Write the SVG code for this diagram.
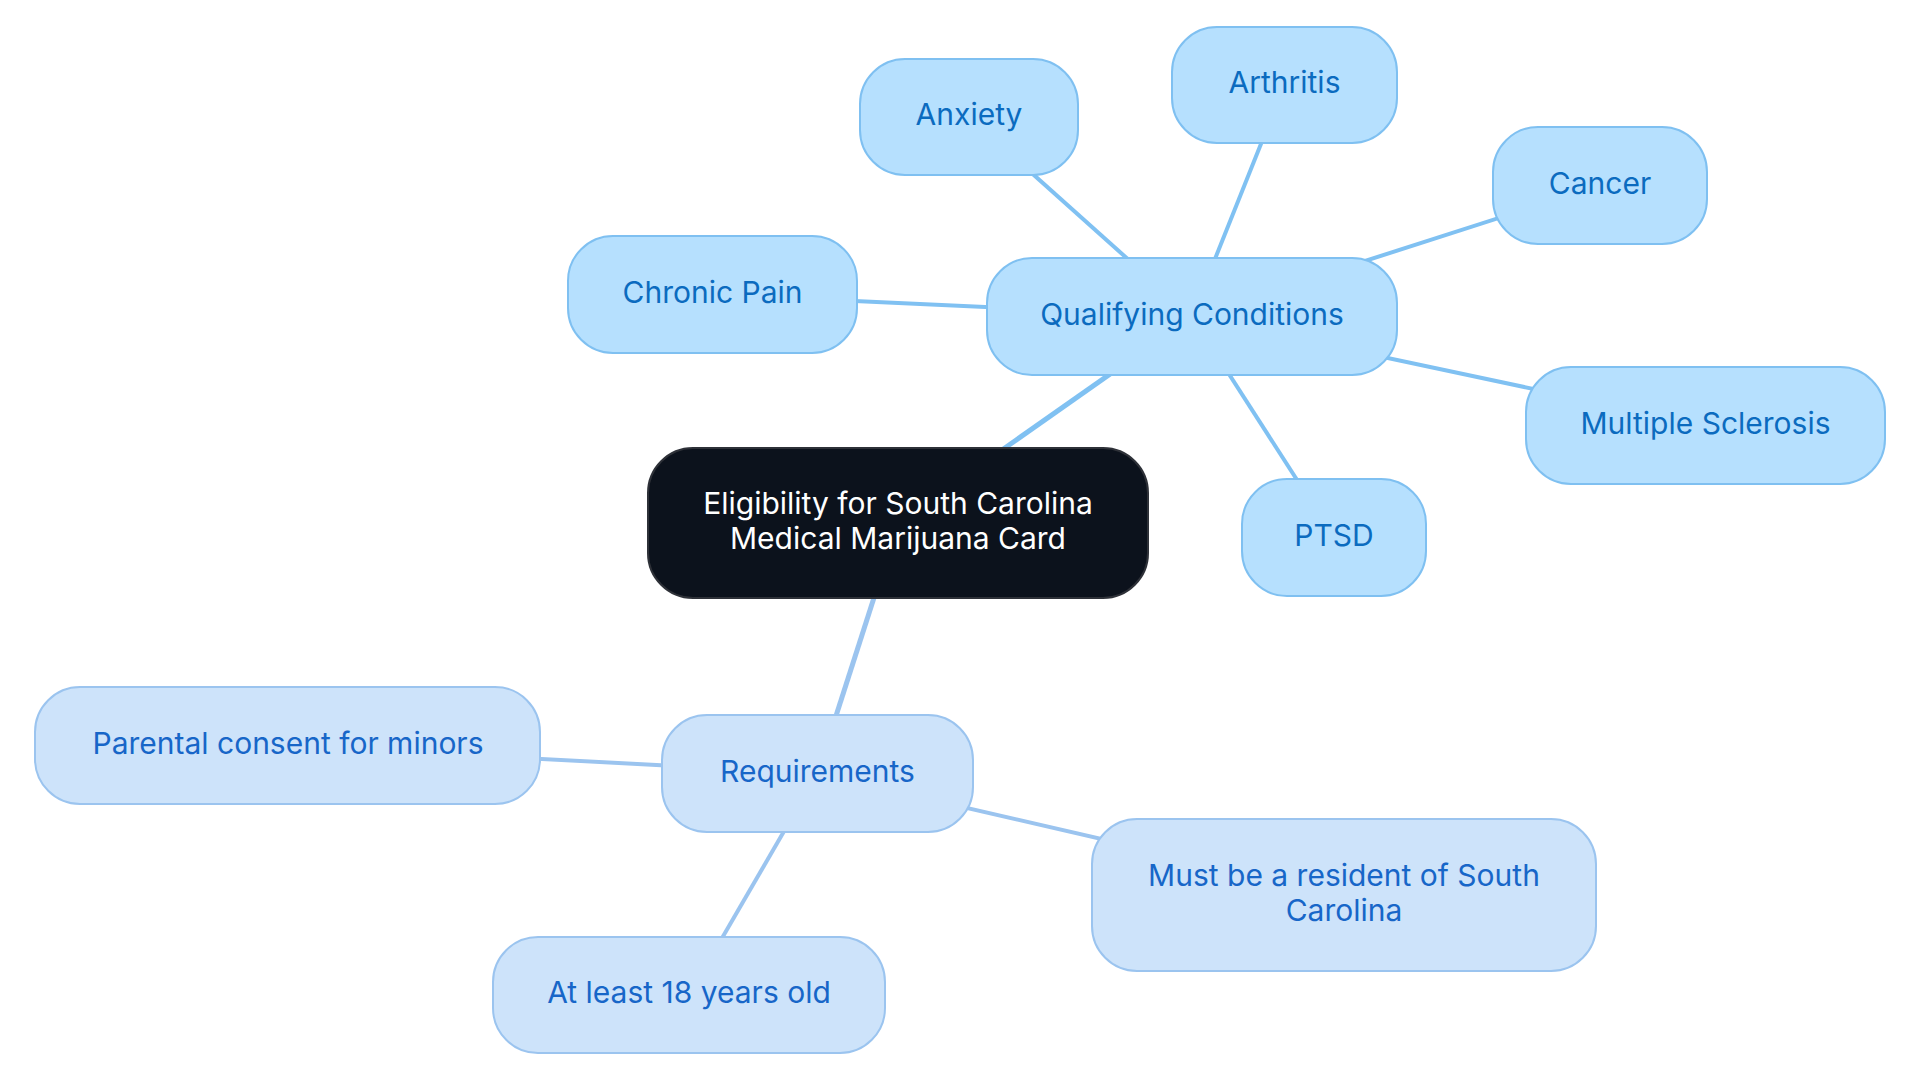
<svg xmlns="http://www.w3.org/2000/svg" width="1920" height="1083" viewBox="0 0 1920 1083">
<style>
text{font-family:"Inter","Liberation Sans",sans-serif;font-size:30px;text-anchor:middle}
.q rect{fill:#b6e0fe;stroke:#7fc0f1;stroke-width:2}
.q text{fill:#0b6bbf}
.r rect{fill:#cde3fa;stroke:#9bc4ef;stroke-width:2}
.r text{fill:#1766c8}
.root rect{fill:#0c121c;stroke:#2e3138;stroke-width:2}
.root text{fill:#ffffff}
.eq{stroke:#80c1f2;stroke-width:4;fill:none}
.er{stroke:#9bc4ef;stroke-width:4;fill:none}
</style>
<rect x="0" y="0" width="1920" height="1083" fill="#ffffff"/>
<g id="connectors">
<line class="eq" x1="898" y1="523" x2="1192" y2="316.5" style="stroke-width:5"/>
<line class="er" x1="898" y1="523" x2="817.5" y2="773.5" style="stroke-width:5"/>
<line class="eq" x1="1192" y1="316.5" x2="969" y2="117"/>
<line class="eq" x1="1192" y1="316.5" x2="1284.5" y2="85"/>
<line class="eq" x1="1192" y1="316.5" x2="1600" y2="185.5"/>
<line class="eq" x1="1192" y1="316.5" x2="712.5" y2="294.5"/>
<line class="eq" x1="1192" y1="316.5" x2="1705.5" y2="425.5"/>
<line class="eq" x1="1192" y1="316.5" x2="1334" y2="537.5"/>
<line class="er" x1="817.5" y1="773.5" x2="288" y2="745.5"/>
<line class="er" x1="817.5" y1="773.5" x2="1344" y2="895"/>
<line class="er" x1="817.5" y1="773.5" x2="689" y2="995"/>
</g>
<g id="root" class="root">
<rect x="648" y="448" width="500" height="150" rx="45"/>
<text x="898" y="513.5">Eligibility for South Carolina</text>
<text x="898" y="548.5">Medical Marijuana Card</text>
</g>
<g id="qualifying" class="q">
<rect x="987" y="258" width="410" height="117" rx="45"/>
<text x="1192" y="324.5">Qualifying Conditions</text>
</g>
<g id="anxiety" class="q">
<rect x="860" y="59" width="218" height="116" rx="45"/>
<text x="969" y="125">Anxiety</text>
</g>
<g id="arthritis" class="q">
<rect x="1172" y="27" width="225" height="116" rx="45"/>
<text x="1284.5" y="93">Arthritis</text>
</g>
<g id="cancer" class="q">
<rect x="1493" y="127" width="214" height="117" rx="45"/>
<text x="1600" y="193.5">Cancer</text>
</g>
<g id="chronic-pain" class="q">
<rect x="568" y="236" width="289" height="117" rx="45"/>
<text x="712.5" y="302.5">Chronic Pain</text>
</g>
<g id="multiple-sclerosis" class="q">
<rect x="1526" y="367" width="359" height="117" rx="45"/>
<text x="1705.5" y="433.5">Multiple Sclerosis</text>
</g>
<g id="ptsd" class="q">
<rect x="1242" y="479" width="184" height="117" rx="45"/>
<text x="1334" y="545.5">PTSD</text>
</g>
<g id="requirements" class="r">
<rect x="662" y="715" width="311" height="117" rx="45"/>
<text x="817.5" y="781.5">Requirements</text>
</g>
<g id="parental-consent" class="r">
<rect x="35" y="687" width="505" height="117" rx="45"/>
<text x="288" y="753.5">Parental consent for minors</text>
</g>
<g id="resident" class="r">
<rect x="1092" y="819" width="504" height="152" rx="45"/>
<text x="1344" y="885.5">Must be a resident of South</text>
<text x="1344" y="920.5">Carolina</text>
</g>
<g id="age" class="r">
<rect x="493" y="937" width="392" height="116" rx="45"/>
<text x="689" y="1003">At least 18 years old</text>
</g>
</svg>
